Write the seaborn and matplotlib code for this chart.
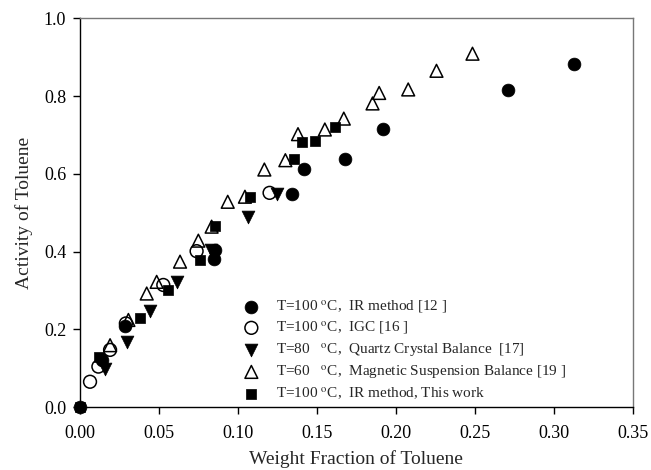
import matplotlib
matplotlib.use("Agg")
import matplotlib.pyplot as plt
import seaborn as sns

# IR method [12], T=100 C
ir12_x = [0.0, 0.0137, 0.0285, 0.0845, 0.0854, 0.134, 0.142, 0.168, 0.192, 0.271, 0.313]
ir12_y = [0.0, 0.120, 0.208, 0.382, 0.404, 0.548, 0.612, 0.639, 0.716, 0.815, 0.883]

# IGC [16], T=100 C
igc_x = [0.0063, 0.0116, 0.019, 0.029, 0.0527, 0.0738, 0.120]
igc_y = [0.065, 0.104, 0.147, 0.215, 0.314, 0.401, 0.551]

# Quartz Crystal Balance [17], T=80 C
qcb_x = [0.0158, 0.0295, 0.0443, 0.0612, 0.083, 0.1065, 0.125]
qcb_y = [0.099, 0.168, 0.248, 0.322, 0.405, 0.489, 0.548]

# Magnetic Suspension Balance [19], T=60 C
msb_x = [0.019, 0.0306, 0.0422, 0.0485, 0.0633, 0.0749, 0.0833, 0.0935, 0.1044, 0.1167,
         0.130, 0.138, 0.155, 0.167, 0.1852, 0.1894, 0.2078, 0.2257, 0.2485]
msb_y = [0.159, 0.224, 0.292, 0.322, 0.374, 0.428, 0.464, 0.528, 0.541, 0.611,
         0.635, 0.702, 0.714, 0.742, 0.781, 0.808, 0.817, 0.865, 0.909]

# IR method, this work, T=100 C
tw_x = [0.0, 0.0122, 0.038, 0.0559, 0.076, 0.0854, 0.1076, 0.1356, 0.1403, 0.1487, 0.1614]
tw_y = [0.0, 0.129, 0.228, 0.302, 0.378, 0.465, 0.541, 0.637, 0.682, 0.685, 0.721]

labels = [
    r"T=100 $^{\mathrm{o}}$C,  IR method [12 ]",
    r"T=100 $^{\mathrm{o}}$C,  IGC [16 ]",
    r"T=80   $^{\mathrm{o}}$C,  Quartz Crystal Balance  [17]",
    r"T=60   $^{\mathrm{o}}$C,  Magnetic Suspension Balance [19 ]",
    r"T=100 $^{\mathrm{o}}$C,  IR method, This work",
]

sns.set_theme(style="ticks")
plt.rcParams["font.family"] = ["Liberation Serif", "DejaVu Serif"]
plt.rcParams["mathtext.fontset"] = "stix"

fig = plt.figure(figsize=(6.51, 4.7), dpi=100)
ax = fig.add_axes([0.123, 0.134, 0.849, 0.827])

sns.scatterplot(x=ir12_x, y=ir12_y, ax=ax, marker="o", s=85, color="black",
                edgecolor="black", linewidth=0.5, label=labels[0], clip_on=False, zorder=3)
sns.scatterplot(x=igc_x, y=igc_y, ax=ax, marker="o", s=85, color="none",
                edgecolor="black", linewidth=1.1, label=labels[1], clip_on=False, zorder=3)
sns.scatterplot(x=qcb_x, y=qcb_y, ax=ax, marker="v", s=85, color="black",
                edgecolor="black", linewidth=0.5, label=labels[2], clip_on=False, zorder=3)
sns.scatterplot(x=msb_x, y=msb_y, ax=ax, marker="^", s=85, color="none",
                edgecolor="black", linewidth=1.1, label=labels[3], clip_on=False, zorder=3)
sns.scatterplot(x=tw_x, y=tw_y, ax=ax, marker="s", s=62, color="black",
                edgecolor="black", linewidth=0.5, label=labels[4], clip_on=False, zorder=4)

ax.set_xlim(0, 0.35)
ax.set_ylim(0, 1.0)
ax.set_xticks([0.0, 0.05, 0.10, 0.15, 0.20, 0.25, 0.30, 0.35])
ax.set_yticks([0.0, 0.2, 0.4, 0.6, 0.8, 1.0])
ax.xaxis.set_major_formatter(matplotlib.ticker.FormatStrFormatter("%.2f"))
ax.yaxis.set_major_formatter(matplotlib.ticker.FormatStrFormatter("%.1f"))
ax.tick_params(axis="both", direction="out", length=5, width=1, labelsize=13, colors="black")
ax.tick_params(axis="x", pad=8)
ax.tick_params(axis="y", pad=5)

for side in ["left", "bottom"]:
    ax.spines[side].set_color("black")
    ax.spines[side].set_linewidth(1.0)
for side in ["top", "right"]:
    ax.spines[side].set_visible(True)
    ax.spines[side].set_color("#777777")
    ax.spines[side].set_linewidth(1.0)

ax.set_xlabel("Weight Fraction of Toluene", fontsize=14, labelpad=6)
ax.set_ylabel("Activity of Toluene", fontsize=14, labelpad=8)

ax.legend(loc="upper left", bbox_to_anchor=(0.285, 0.295), frameon=False, fontsize=11,
          labelspacing=0.3, handletextpad=1.1, borderaxespad=0, handlelength=1.0)

fig.savefig("out.png", dpi=100)
